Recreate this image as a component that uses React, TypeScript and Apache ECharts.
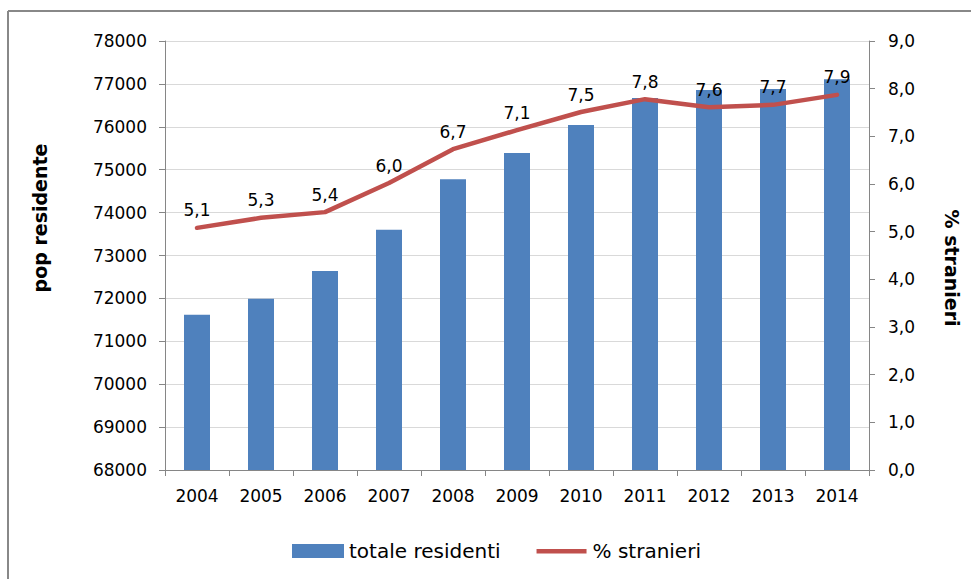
import React, { useEffect, useRef } from 'react';
import * as echarts from 'echarts';

const years = ['2004', '2005', '2006', '2007', '2008', '2009', '2010', '2011', '2012', '2013', '2014'];
const totaleResidenti = [71620, 71990, 72640, 73600, 74780, 75390, 76040, 76670, 76860, 76880, 77110];
const percStranieri = [5.08, 5.29, 5.41, 6.02, 6.73, 7.13, 7.51, 7.78, 7.61, 7.66, 7.87];

const FONT = 'DejaVu Sans';
const fmt = (v: number) => v.toFixed(1).replace('.', ',');

export default function App() {
  const ref = useRef<HTMLDivElement>(null);
  useEffect(() => {
    if (!ref.current) return;
    const chart = echarts.init(ref.current, undefined, { renderer: 'svg' });
    const axisGray = '#868686';
    chart.setOption({
      animation: false,
      backgroundColor: '#ffffff',
      textStyle: { fontFamily: FONT },
      grid: { left: 165, right: 102, top: 41, bottom: 109 },
      legend: {
        left: 287,
        top: 536,
        itemWidth: 52,
        itemHeight: 14,
        itemGap: 36,
        textStyle: { fontFamily: FONT, fontSize: 20, color: '#000' },
        data: [
          { name: 'totale residenti', icon: 'rect' },
          { name: '% stranieri', icon: 'path://M0,0 M50,14 M0,5 L50,5 L50,9.5 L0,9.5 Z' },
        ],
      },
      xAxis: {
        type: 'category',
        data: years,
        axisLine: { show: true, lineStyle: { color: axisGray, width: 1 } },
        axisTick: { show: true, length: 6, lineStyle: { color: axisGray } },
        axisLabel: { color: '#000', fontFamily: FONT, fontSize: 17, margin: 17 },
      },
      yAxis: [
        {
          type: 'value',
          position: 'left',
          min: 68000,
          max: 78000,
          interval: 1000,
          axisLine: { show: true, lineStyle: { color: axisGray } },
          axisTick: { show: true, length: 6, lineStyle: { color: axisGray } },
          axisLabel: { color: '#000', fontFamily: FONT, fontSize: 17, margin: 18, formatter: (v: number) => String(v) },
          splitLine: { show: true, lineStyle: { color: '#D9D9D9', width: 1 } },
        },
        {
          type: 'value',
          position: 'right',
          min: 0,
          max: 9,
          interval: 1,
          axisLine: { show: true, lineStyle: { color: axisGray } },
          axisTick: { show: true, length: 6, lineStyle: { color: axisGray } },
          axisLabel: { color: '#000', fontFamily: FONT, fontSize: 17, margin: 19, formatter: (v: number) => fmt(v) },
          splitLine: { show: false },
        },
      ],
      series: [
        {
          name: 'totale residenti',
          type: 'bar',
          data: totaleResidenti,
          barWidth: 26,
          itemStyle: { color: '#4F81BD' },
        },
        {
          name: '% stranieri',
          type: 'line',
          yAxisIndex: 1,
          data: percStranieri,
          symbol: 'circle',
          symbolSize: 0,
          showSymbol: true,
          itemStyle: { color: '#C0504D' },
          lineStyle: { color: '#C0504D', width: 4.5, cap: 'round', join: 'round' },
          label: {
            show: true,
            position: 'top',
            distance: 9,
            color: '#000',
            fontFamily: FONT,
            fontSize: 17,
            formatter: (p: any) => fmt(p.value),
          },
        },
      ],
      graphic: [
        { type: 'line', shape: { x1: 8, y1: 11, x2: 971, y2: 11 }, style: { stroke: '#888', lineWidth: 2 } },
        { type: 'line', shape: { x1: 8, y1: 11, x2: 8, y2: 579 }, style: { stroke: '#888', lineWidth: 2 } },
        {
          type: 'text',
          x: 40,
          y: 218,
          rotation: Math.PI / 2,
          style: { text: 'pop residente', fontFamily: FONT, fontSize: 19, fontWeight: 'bold', fill: '#000', align: 'center', verticalAlign: 'middle' },
        },
        {
          type: 'text',
          x: 952,
          y: 268,
          rotation: -Math.PI / 2,
          style: { text: '% stranieri', fontFamily: FONT, fontSize: 19, fontWeight: 'bold', fill: '#000', align: 'center', verticalAlign: 'middle' },
        },
      ],
    });
    return () => chart.dispose();
  }, []);
  return <div ref={ref} style={{ position: 'fixed', left: 0, top: 0, width: 971, height: 579 }} />;
}
